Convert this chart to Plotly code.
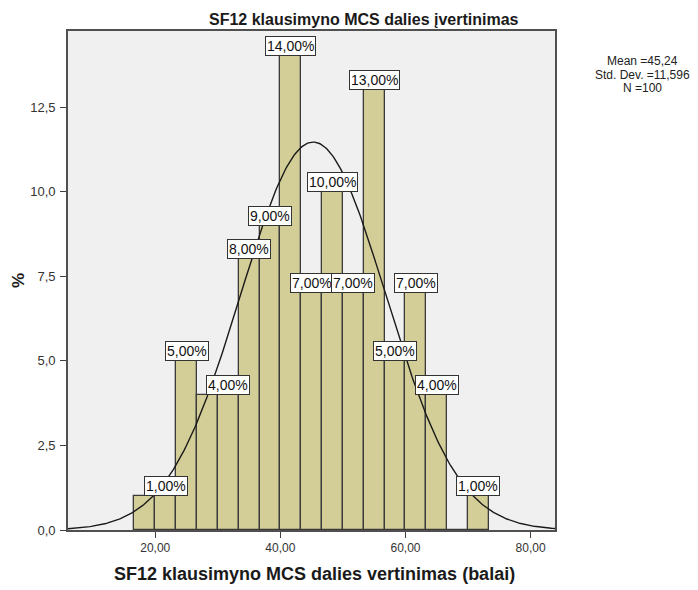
import numpy as np
import plotly.graph_objects as go

# Histogram bins (score ranges) and percentage of respondents per bin
bin_edges = [16.67, 20.00, 23.33, 26.67, 30.00, 33.33, 36.67, 40.00, 43.33,
             46.67, 50.00, 53.33, 56.67, 60.00, 63.33, 66.67, 70.00, 73.33]
percents = [1, 1, 5, 4, 4, 8, 9, 14, 7, 10, 7, 13, 5, 7, 4, 0, 1]
# Bins whose value label is drawn (overlapping labels are suppressed)
labelled_bins = [1, 2, 4, 5, 6, 7, 8, 9, 10, 11, 12, 13, 14, 16]

# Summary statistics
mean_val = 45.24
sd_val = 11.596
n_val = 100

x_ticks = [20, 40, 60, 80]
y_ticks = [0, 2.5, 5, 7.5, 10, 12.5]

x_range = [6.05, 83.9]
y_range = [0, 14.75]

W, H = 698, 590
ML, MR, MT, MB = 68, 143, 31, 60
plot_h = H - MT - MB
plot_w = W - ML - MR


def px_to_paper(xpx, ypx):
    """Convert page pixel position to paper coordinates of the plot area."""
    return (xpx - ML) / plot_w, (H - MB - ypx) / plot_h


def num(v, decimals):
    return f"{v:.{decimals}f}".replace(".", ",")


edges = np.array(bin_edges)
centers = (edges[:-1] + edges[1:]) / 2
widths = np.diff(edges)
bin_w = float(np.mean(widths))

fig = go.Figure()

fig.add_trace(go.Bar(
    x=centers, y=percents, width=widths,
    marker=dict(color="#D3CE97", line=dict(color="#3a3a3a", width=1.3)),
    hoverinfo="skip", showlegend=False,
))

# Normal curve scaled to percent per bin
xc = np.linspace(x_range[0], x_range[1], 400)
yc = 100 * bin_w * np.exp(-0.5 * ((xc - mean_val) / sd_val) ** 2) / (sd_val * np.sqrt(2 * np.pi))
fig.add_trace(go.Scatter(
    x=xc, y=yc, mode="lines", line=dict(color="#1a1a1a", width=1.4),
    hoverinfo="skip", showlegend=False,
))

annotations = []
for i in labelled_bins:
    annotations.append(dict(
        x=centers[i], y=percents[i], xref="x", yref="y",
        text=num(percents[i], 2) + "%", showarrow=False,
        xanchor="center", yanchor="bottom",
        font=dict(family="Arial, Liberation Sans", size=14, color="#111111"),
        bgcolor="white", bordercolor="#333333", borderwidth=1, borderpad=1,
    ))

# Chart title
tx, ty = px_to_paper(363.5, 19.5)
annotations.append(dict(
    x=tx, y=ty, xref="paper", yref="paper",
    text="<b>SF12 klausimyno MCS dalies įvertinimas</b>", showarrow=False,
    xanchor="center", yanchor="middle",
    font=dict(family="Arial, Liberation Sans", size=16, color="#1a1a1a"),
))

# Summary statistics text block
stat_lines = ["Mean =" + num(mean_val, 2),
              "Std. Dev. =" + num(sd_val, 3),
              "N =" + str(n_val)]
for line, ypx in zip(stat_lines, [60.5, 74.5, 88.5]):
    sx, sy = px_to_paper(642.5, ypx)
    annotations.append(dict(
        x=sx, y=sy, xref="paper", yref="paper", text=line, showarrow=False,
        xanchor="center", yanchor="middle",
        font=dict(family="Arial, Liberation Sans", size=12, color="#222222"),
    ))

# Axis titles
ax, ay = px_to_paper(314, 574)
annotations.append(dict(
    x=ax, y=ay, xref="paper", yref="paper",
    text="<b>SF12 klausimyno MCS dalies vertinimas (balai)</b>", showarrow=False,
    xanchor="center", yanchor="middle",
    font=dict(family="Arial, Liberation Sans", size=18, color="#1a1a1a"),
))
yx, yy = px_to_paper(18.5, 280.5)
annotations.append(dict(
    x=yx, y=yy, xref="paper", yref="paper", text="<b>%</b>", showarrow=False,
    textangle=-90, xanchor="center", yanchor="middle",
    font=dict(family="Arial, Liberation Sans", size=17, color="#1a1a1a"),
))

fig.update_layout(
    width=W, height=H,
    margin=dict(l=ML, r=MR, t=MT, b=MB, pad=0),
    paper_bgcolor="white", plot_bgcolor="#F0F0F0",
    separators=",.",
    bargap=0,
    annotations=annotations,
)

axis_common = dict(
    showgrid=False, zeroline=False, showline=True, mirror=True,
    linecolor="#505050", linewidth=1.6,
    ticks="outside", ticklen=6, tickwidth=1.4, tickcolor="#404040",
)
fig.update_xaxes(
    range=x_range, tickvals=x_ticks, tickformat=".2f",
    tickfont=dict(family="Arial, Liberation Sans", size=12, color="#333333"),
    **axis_common,
)
fig.update_yaxes(
    range=y_range, tickvals=y_ticks, tickformat=".1f",
    tickfont=dict(family="Arial, Liberation Sans", size=13, color="#333333"),
    ticklabelstandoff=2,
    **axis_common,
)

fig.write_html("out.html")
